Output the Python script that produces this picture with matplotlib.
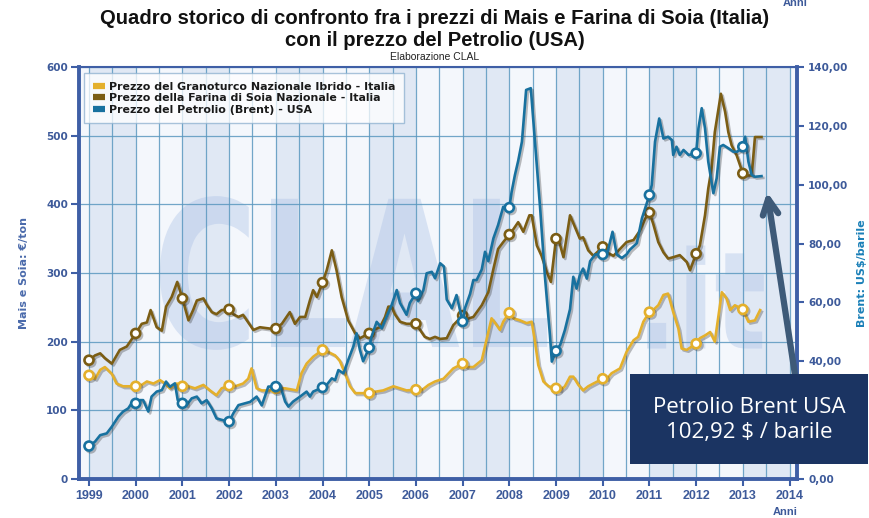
import matplotlib
matplotlib.use('Agg')
import matplotlib.pyplot as plt
import numpy as np
from matplotlib import patheffects as pe
from matplotlib.textpath import TextPath
from matplotlib.patches import PathPatch, Rectangle
from matplotlib.font_manager import FontProperties, fontManager
from matplotlib.transforms import Affine2D
from matplotlib.lines import Line2D
from matplotlib.ticker import FixedLocator, FuncFormatter

# ---------------- data ----------------
soia_t = [1999.00,1999.13,1999.24,1999.34,1999.49,1999.66,1999.81,2000.00,2000.13,2000.24,2000.32,2000.45,2000.56,2000.65,2000.77,2000.89,
          2001.00,2001.13,2001.23,2001.31,2001.45,2001.52,2001.63,2001.73,2001.84,2002.00,2002.09,2002.20,2002.30,2002.38,2002.52,2002.66,2002.88,
          2003.00,2003.13,2003.23,2003.30,2003.41,2003.52,2003.63,2003.73,2003.80,2003.88,2004.00,2004.09,2004.20,2004.30,2004.41,2004.55,2004.70,2004.80,
          2005.00,2005.09,2005.23,2005.34,2005.41,2005.48,2005.55,2005.66,2005.80,2006.00,2006.09,2006.19,2006.30,2006.41,2006.52,2006.66,2006.80,
          2007.00,2007.09,2007.23,2007.41,2007.55,2007.66,2007.76,2007.87,2008.00,2008.09,2008.19,2008.30,2008.43,2008.48,2008.59,2008.69,2008.80,2008.89,
          2009.00,2009.05,2009.16,2009.30,2009.41,2009.51,2009.58,2009.69,2009.80,2010.00,2010.09,2010.23,2010.37,2010.51,2010.66,2010.80,2010.91,
          2011.00,2011.08,2011.19,2011.30,2011.40,2011.51,2011.65,2011.80,2011.87,2012.00,2012.08,2012.19,2012.26,2012.33,2012.40,2012.48,2012.53,
          2012.62,2012.69,2012.76,2012.87,2013.00,2013.08,2013.19,2013.26,2013.40]
soia_v = [173,180,183,176,168,188,193,212,226,228,246,221,216,251,265,287,
          263,231,246,260,263,254,243,240,246,247,240,236,239,231,217,221,219,
          219,226,236,243,226,236,236,260,275,265,286,304,333,304,265,231,212,205,
          212,217,221,236,251,251,240,229,226,226,217,207,204,207,204,205,224,
          238,233,236,253,272,306,335,345,356,364,374,360,384,384,340,325,302,287,
          350,350,323,384,366,350,352,333,325,338,330,325,335,345,348,362,379,
          388,372,345,330,321,323,326,316,304,328,340,384,423,452,505,539,561,
          535,505,486,471,445,442,442,498,498]

mais_t = [1999.00,1999.13,1999.24,1999.34,1999.49,1999.59,1999.73,2000.00,2000.13,2000.24,2000.38,2000.52,2000.63,2000.73,2000.88,
          2001.00,2001.13,2001.27,2001.45,2001.59,2001.73,2001.84,2002.00,2002.13,2002.30,2002.41,2002.48,2002.59,2002.70,2002.88,
          2003.00,2003.20,2003.45,2003.55,2003.66,2003.80,2004.00,2004.12,2004.27,2004.37,2004.48,2004.59,2004.70,2004.80,
          2005.00,2005.12,2005.30,2005.52,2005.66,2005.80,2006.00,2006.12,2006.27,2006.41,2006.59,2006.66,2006.80,
          2007.00,2007.09,2007.23,2007.41,2007.52,2007.62,2007.73,2007.80,2007.87,2008.00,2008.09,2008.23,2008.37,2008.48,2008.55,2008.62,2008.73,2008.84,
          2009.00,2009.09,2009.19,2009.30,2009.37,2009.48,2009.58,2009.69,2009.80,2010.00,2010.09,2010.19,2010.37,2010.51,2010.66,2010.76,2010.87,
          2011.00,2011.08,2011.19,2011.30,2011.40,2011.51,2011.62,2011.69,2011.80,2012.00,2012.08,2012.19,2012.30,2012.40,2012.55,2012.65,2012.73,2012.83,
          2013.00,2013.05,2013.12,2013.26,2013.37]
mais_v = [151,146,159,163,153,139,135,135,137,142,139,144,139,132,139,
          135,135,132,137,129,122,132,136,135,139,146,161,132,129,129,
          132,132,129,154,168,178,188,185,180,172,154,135,125,125,
          125,127,129,135,132,129,130,129,137,142,146,151,161,
          168,163,163,173,205,234,224,217,229,242,234,231,227,229,200,166,142,135,
          132,129,135,149,149,137,129,135,139,146,146,154,161,185,202,207,229,
          243,246,253,268,270,243,219,190,188,197,205,209,214,200,272,263,246,253,
          247,239,229,231,246]

oil_t = [1999.00,1999.13,1999.24,1999.38,1999.49,1999.63,1999.73,1999.84,1999.91,2000.00,2000.09,2000.16,2000.27,2000.34,2000.45,2000.56,2000.65,2000.73,2000.84,2000.90,
         2001.00,2001.09,2001.20,2001.31,2001.41,2001.52,2001.63,2001.73,2001.84,2002.00,2002.09,2002.20,2002.34,2002.45,2002.59,2002.70,2002.84,
         2003.00,2003.09,2003.20,2003.27,2003.37,2003.52,2003.66,2003.73,2003.80,2004.00,2004.09,2004.20,2004.27,2004.34,2004.45,2004.55,2004.66,2004.73,2004.80,2004.87,
         2005.00,2005.05,2005.16,2005.27,2005.37,2005.48,2005.59,2005.66,2005.80,2005.87,2006.00,2006.05,2006.16,2006.23,2006.34,2006.41,2006.52,2006.60,2006.66,2006.77,2006.87,
         2007.00,2007.05,2007.16,2007.23,2007.30,2007.41,2007.48,2007.55,2007.66,2007.76,2007.87,2008.00,2008.05,2008.12,2008.19,2008.27,2008.36,2008.46,2008.55,2008.66,2008.76,2008.87,2008.91,
         2009.00,2009.09,2009.19,2009.30,2009.37,2009.44,2009.51,2009.58,2009.66,2009.73,2009.84,2010.00,2010.09,2010.21,2010.30,2010.41,2010.51,2010.58,2010.73,2010.84,
         2011.00,2011.05,2011.12,2011.21,2011.30,2011.40,2011.48,2011.51,2011.58,2011.65,2011.73,2011.84,2012.00,2012.05,2012.12,2012.19,2012.26,2012.37,2012.44,2012.51,2012.58,2012.69,2012.80,2012.88,
         2013.00,2013.05,2013.12,2013.19,2013.26,2013.40]
oil_v = [11.2,12.7,14.9,15.5,17.8,21.2,22.9,24.0,25.7,25.7,26.8,26.8,22.9,28.0,29.7,30.2,33.1,31.3,32.5,26.8,
         25.7,25.1,27.4,28.0,25.7,26.8,24.0,20.6,20.1,19.5,22.3,25.1,25.7,26.2,28.0,25.0,31.4,
         31.4,32.0,26.3,24.6,26.3,28.0,29.7,28.0,29.7,31.1,32.0,34.2,33.6,37.0,35.9,40.4,45.0,49.5,43.9,40.0,
         44.6,48.4,53.4,51.2,55.1,59.1,64.2,59.8,55.8,59.8,63.1,60.4,64.2,69.9,70.4,68.2,73.3,72.2,61.0,58.0,62.5,
         53.5,58.0,62.9,67.6,67.6,71.2,77.2,74.0,81.8,86.3,92.5,92.2,97.6,103.3,108.1,114.6,132.2,132.8,114.6,92.0,69.3,48.9,39.9,
         43.5,45.6,50.6,57.7,68.7,64.7,69.3,71.5,68.1,74.0,76.3,76.3,76.3,84.0,76.3,75.1,76.3,77.9,80.1,88.6,
         96.5,99.9,114.6,122.5,115.7,116.3,115.2,110.1,112.9,110.1,111.8,110.1,110.7,119.2,126.0,119.2,107.8,97.1,102.2,112.9,113.5,112.4,111.2,111.2,
         112.9,116.3,107.8,103.3,102.7,102.92]

years = list(range(1999, 2015))
left_ticks = [0, 100, 200, 300, 400, 500, 600]
right_ticks = [0, 20, 40, 60, 80, 100, 120, 140]

legend_labels = ["Prezzo del Granoturco Nazionale Ibrido - Italia",
                 "Prezzo della Farina di Soia Nazionale - Italia",
                 "Prezzo del Petrolio (Brent) - USA"]

# ---------------- style ----------------
names = {f.name for f in fontManager.ttflist}
NARROW = 'Liberation Sans' if 'Liberation Sans' in names else 'DejaVu Sans'
BOX_FONT = 'Open Sans' if 'Open Sans' in names else 'DejaVu Sans'

C_MAIS = '#e4b02c'
C_SOIA = '#7b5d14'
C_OIL = '#18719f'
C_AX = '#3f5fa6'
C_TXT = '#3d5a9a'
C_GRID = '#5b98bf'

fig = plt.figure(figsize=(8.69, 5.18), dpi=100)
ax = fig.add_axes([79/869, 1-479/518, (797-79)/869, (479-67)/518])
ax.set_xlim(1998.786, 2014.16)
ax.set_ylim(0, 600)
ax.set_facecolor('#f4f7fc')

# alternating year bands
for y in years[:-1]:
    if y % 2 == 1:
        ax.axvspan(y, y+1, color='#e0e8f4', zorder=0, lw=0)

# watermark CLAL.it
def text_patch(s, x0, x1, y0, y1, **kw):
    tp = TextPath((0, 0), s, size=1, prop=FontProperties(family='DejaVu Sans', weight='bold'))
    ext = tp.get_extents()
    tr = Affine2D().translate(-ext.x0, -ext.y0).scale((x1-x0)/ext.width, (y1-y0)/ext.height).translate(x0, y0)
    p = PathPatch(tp, transform=tr + ax.transData, **kw)
    ax.add_patch(p)

text_patch('CLAL', 2000.52, 2008.81, 188, 412, facecolor='#a9c0e6', alpha=0.38, lw=0, zorder=0.3)
text_patch('.it', 2010.95, 2013.45, 190, 340, facecolor='#a9c0e6', alpha=0.38, lw=0, zorder=0.3)

# grid
ax.xaxis.set_major_locator(FixedLocator(years))
ax.xaxis.set_minor_locator(FixedLocator([y+0.5 for y in years[:-1]]))
ax.yaxis.set_major_locator(FixedLocator(left_ticks))
ax.grid(True, which='both', axis='x', color=C_GRID, lw=0.9, alpha=0.85, zorder=0.5)
ax.grid(True, which='major', axis='y', color=C_GRID, lw=0.9, alpha=0.85, zorder=0.5)
ax.set_axisbelow(True)

shadow = [pe.SimpleLineShadow(offset=(1.3, -1.3), shadow_color='#333333', alpha=0.32), pe.Normal()]

def marks(t):
    return [i for i, v in enumerate(t) if abs(v - round(v)) < 1e-9]

ax.plot(soia_t, soia_v, color=C_SOIA, lw=1.9, marker='o', markevery=marks(soia_t), mfc='white',
        mec=C_SOIA, ms=6.5, mew=1.9, path_effects=shadow, zorder=3)
ax.plot(mais_t, mais_v, color=C_MAIS, lw=1.9, marker='o', markevery=marks(mais_t), mfc='white',
        mec=C_MAIS, ms=6.5, mew=1.9, path_effects=shadow, zorder=3)

ax2 = ax.twinx()
ax2.set_ylim(0, 140)
ax2.plot(oil_t, oil_v, color=C_OIL, lw=1.9, marker='o', markevery=marks(oil_t), mfc='white',
         mec=C_OIL, ms=6.5, mew=1.9, path_effects=shadow, zorder=3)

# spines & ticks
for a in (ax, ax2):
    for s in a.spines.values():
        s.set_color(C_AX)
ax.spines['left'].set_linewidth(2.8)
ax.spines['bottom'].set_linewidth(2.8)
ax.spines['top'].set_linewidth(1.5)
ax.spines['right'].set_visible(False)
ax2.spines['right'].set_linewidth(2.8)
for s in ('left', 'top', 'bottom'):
    ax2.spines[s].set_visible(False)

ax.tick_params(axis='x', which='major', direction='out', length=5, width=1.5, color=C_AX, pad=3)
ax.tick_params(axis='x', which='minor', length=0)
ax.tick_params(axis='y', direction='out', length=6, width=1.5, color=C_AX, pad=2)
ax.set_xticklabels([str(y) for y in years], fontsize=9, fontweight='bold', color=C_TXT, family=NARROW)
ax.set_yticklabels([str(v) for v in left_ticks], fontsize=7.5, fontweight='bold', color=C_TXT, family='DejaVu Sans')

ax2.yaxis.set_major_locator(FixedLocator(right_ticks))
ax2.yaxis.set_major_formatter(FuncFormatter(lambda v, p: f"{v:.2f}".replace('.', ',')))
ax2.tick_params(axis='y', direction='out', length=5, width=1.5, color=C_AX, pad=3, labelsize=7.5, labelcolor=C_TXT)
fig.canvas.draw()
for lab in ax2.get_yticklabels():
    lab.set_fontweight('bold')
    if lab.get_text() == '20,00':
        lab.set_visible(False)  # hidden behind the annotation box in the reference

ax.set_ylabel('Mais e Soia: €/ton', fontsize=8, fontweight='bold', color='#4a6aab', labelpad=12)
ax2.set_ylabel('Brent: US$/barile', fontsize=8, fontweight='bold', color='#1b80b8', labelpad=6)

# legend
handles = [Line2D([], [], color=C_MAIS, lw=4.5, solid_capstyle='butt'),
           Line2D([], [], color=C_SOIA, lw=4.5, solid_capstyle='butt'),
           Line2D([], [], color=C_OIL, lw=4.5, solid_capstyle='butt')]
leg = ax2.legend(handles, legend_labels, loc='upper left', bbox_to_anchor=(0.0, 0.998),
                 prop=FontProperties(family='DejaVu Sans', weight='bold', size=7.9),
                 handlelength=1.1, handletextpad=0.4, labelspacing=0.14, borderpad=0.75,
                 frameon=True, fancybox=False, framealpha=0.75, edgecolor='#8db0cf', facecolor='white')
leg.get_frame().set_linewidth(1.0)
for t in leg.get_texts():
    t.set_color('#1a1a1a')

# titles
fig.text(0.5, 1-18/518, 'Quadro storico di confronto fra i prezzi di Mais e Farina di Soia (Italia)',
         ha='center', va='center', fontsize=14.6, fontweight='bold', family=NARROW, color='#111111')
fig.text(0.5, 1-40/518, 'con il prezzo del Petrolio (USA)',
         ha='center', va='center', fontsize=14.6, fontweight='bold', family=NARROW, color='#111111')
fig.text(0.5, 1-57/518, 'Elaborazione CLAL', ha='center', va='center', fontsize=7.5, family=NARROW, color='#222222')
fig.text(785/869, 1-512/518, 'Anni', ha='center', va='center', fontsize=8, fontweight='bold', family=NARROW, color=C_TXT)
fig.text(795/869, 1-3/518, 'Anni', ha='center', va='center', fontsize=8, fontweight='bold', family=NARROW, color=C_TXT)

# annotation
ax2.annotate('', xy=(2013.52, 97.5), xycoords='data', xytext=(797/869, 1-388/518), textcoords='figure fraction',
             arrowprops=dict(arrowstyle='->', lw=4.5, color='#3e5a78', mutation_scale=28, shrinkA=0, shrinkB=0),
             annotation_clip=False, zorder=5)
fig.patches.append(Rectangle((630/869, 1-464/518), 238/869, 90/518, transform=fig.transFigure,
                             facecolor='#1b3462', edgecolor='none', zorder=10))
fig.text(749/869, 1-420/518, 'Petrolio Brent USA\n102,92 $ / barile', ha='center', va='center',
         fontsize=16, color='white', family=BOX_FONT, linespacing=1.25, zorder=11)

fig.savefig('out.png', dpi=100)
